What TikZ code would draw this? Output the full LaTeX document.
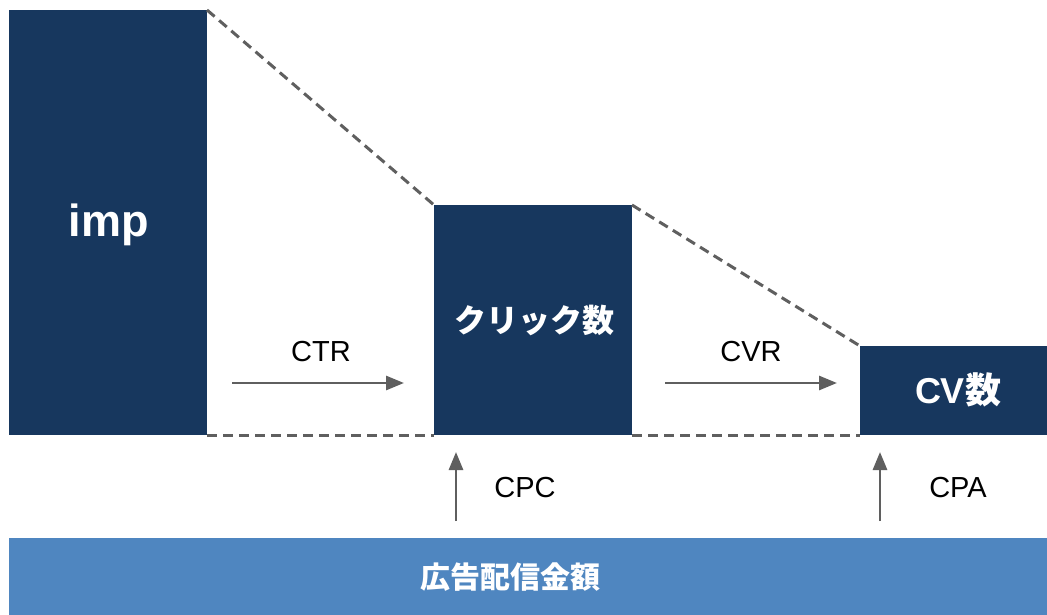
\documentclass[tikz,border=0pt]{standalone}
\usepackage{fontspec}
\setmainfont{Liberation Sans}
\newfontfamily\jp{Noto Sans CJK JP}
\usetikzlibrary{arrows.meta}
\definecolor{navy}{HTML}{17375E}
\definecolor{barblue}{HTML}{4F86C0}
\definecolor{lgray}{HTML}{5F5F5F}
\tikzset{
  x=1pt, y=-1pt,
  bar/.style={fill=navy, draw=none},
  guide/.style={draw=lgray, line width=3pt, dash pattern=on 10pt off 6pt},
  flow/.style={draw=lgray, line width=2.8pt, -{Triangle[length=18pt,width=14pt]}},
  lbl/.style={font=\fontsize{29}{32}\selectfont, text=black},
  intext/.style={font=\jp\bfseries\fontsize{32}{34}\selectfont, text=white},
}
\begin{document}
\begin{tikzpicture}
\useasboundingbox (0,0) rectangle (1047,615);
\fill[white] (0,0) rectangle (1047,615);
% boxes
\fill[bar] (9,10) rectangle (207,435);
\fill[bar] (434,205) rectangle (632,435);
\fill[bar] (860,346) rectangle (1047,435);
\fill[barblue] (9,538) rectangle (1047,615);
% corner coordinates
\coordinate (impTR) at (207,10);
\coordinate (impBR) at (207,435);
\coordinate (clkTL) at (434,205);
\coordinate (clkBL) at (434,435);
\coordinate (clkTR) at (632,205);
\coordinate (clkBR) at (632,435);
\coordinate (cvTL) at (860,346);
\coordinate (cvBL) at (860,435);
% guides
\draw[guide] (impTR) -- (clkTL);
\draw[guide] (clkTR) -- (cvTL);
\draw[guide] (impBR) -- (clkBL);
\draw[guide] (clkBR) -- (cvBL);
% texts
\node[intext, font=\bfseries\fontsize{45}{48}\selectfont] (imp) at (109,225) {imp};
\node[intext] (clk) at (534,320) {クリック数};
\node[intext, font=\bfseries\fontsize{36}{38}\selectfont] (cv) at (958,390) {CV{\jp 数}};
\node[intext, font=\jp\bfseries\fontsize{30}{34}\selectfont, anchor=west] (spend) at (417,577) {広告配信金額};
% arrows
\coordinate (a1s) at (232,383); \coordinate (a1e) at (404,383);
\coordinate (a2s) at (665,383); \coordinate (a2e) at (837,383);
\coordinate (u1s) at (456,521); \coordinate (u1e) at (456,452);
\coordinate (u2s) at (880,521); \coordinate (u2e) at (880,452);
\draw[flow] (a1s) -- (a1e);
\draw[flow] (a2s) -- (a2e);
\draw[flow] (u1s) -- (u1e);
\draw[flow] (u2s) -- (u2e);
\node[lbl] (ctr) at (321,352) {CTR};
\node[lbl] (cvr) at (751,352) {CVR};
\node[lbl] (cpc) at (525,488) {CPC};
\node[lbl] (cpa) at (958,488) {CPA};
\end{tikzpicture}
\end{document}
